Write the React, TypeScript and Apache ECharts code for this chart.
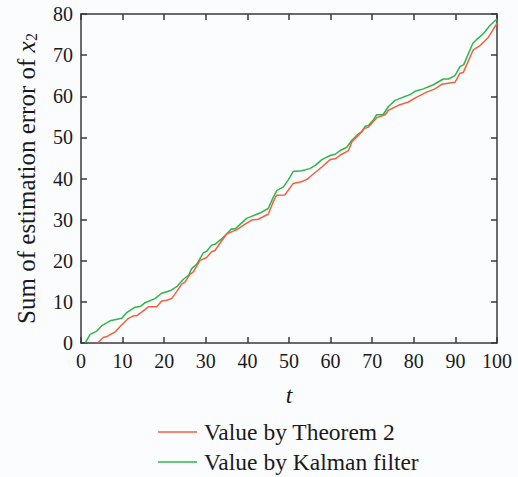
import React, { useEffect, useRef } from "react";
import * as echarts from "echarts";

const xTicks = [0, 10, 20, 30, 40, 50, 60, 70, 80, 90, 100];
const yTicks = [0, 10, 20, 30, 40, 50, 60, 70, 80];

const tTheorem = [4, 5.4, 6.1, 8.2, 9.4, 11.4, 12.6, 13.4, 16.2, 18.2, 19.4, 20.6, 21.8, 23, 24.2, 25, 26.2, 27, 28.6, 30.2, 31.4, 32.2, 35, 36.6, 37.4, 39, 41, 42.6, 45, 46.2, 47, 49, 51, 53, 54.3, 55.5, 57.9, 59.9, 61.1, 62.7, 64.3, 65.1, 67.1, 67.9, 69.1, 71.1, 73.1, 73.9, 76.3, 78.7, 80.7, 83.1, 85.1, 86.7, 89.9, 91.1, 91.9, 94.3, 95.9, 97.9, 100];
const vTheorem = [0, 1.4, 1.5, 2.7, 4.0, 6.0, 6.6, 6.6, 8.8, 8.8, 10.2, 10.4, 10.8, 12.5, 14.3, 14.8, 16.7, 17.3, 20.1, 20.8, 22.2, 22.5, 26.5, 27.2, 27.5, 28.6, 29.9, 30.1, 31.3, 34.3, 35.9, 36.0, 38.8, 39.2, 39.8, 40.8, 42.8, 44.6, 44.8, 45.9, 46.8, 48.9, 50.9, 52.1, 52.5, 54.8, 55.5, 56.6, 57.8, 58.6, 59.8, 61.0, 61.8, 62.9, 63.4, 65.6, 65.8, 71.3, 72.3, 74.3, 77.7];

const tKalman = [1, 2.2, 3.8, 5, 7, 9.8, 11, 13, 14.3, 15.4, 17.8, 19.4, 21.4, 23, 24.6, 25.9, 26.6, 27.8, 29.4, 30.2, 31.4, 32.2, 33.8, 36.2, 37, 39.8, 41, 43, 45, 46.2, 47.1, 48.6, 49.8, 51, 53, 55, 56.3, 57.9, 59.9, 61.1, 62.3, 63.9, 65.1, 66.7, 67.5, 68.3, 69.1, 70.3, 71.1, 72.6, 73.9, 75.5, 77.5, 79.1, 80.3, 82.3, 84.7, 87.1, 88.3, 89.9, 91.1, 92, 94.2, 95, 96.7, 98.3, 100];
const vKalman = [0, 2.1, 2.9, 4.2, 5.4, 6.0, 7.4, 8.7, 8.9, 9.8, 10.8, 12.1, 12.7, 13.7, 15.5, 16.5, 18.1, 19.1, 21.9, 22.3, 23.8, 24.0, 25.3, 27.8, 27.7, 30.3, 30.8, 31.6, 32.7, 35.4, 37.1, 37.9, 39.6, 41.7, 41.9, 42.4, 43.2, 44.6, 45.6, 45.9, 46.8, 47.6, 49.3, 50.9, 51.3, 52.7, 52.9, 54.3, 55.5, 55.5, 57.5, 59.0, 59.8, 60.4, 61.2, 61.8, 62.8, 64.2, 64.2, 65.0, 67.2, 67.7, 72.9, 73.7, 75.2, 77.2, 78.8];

const seriesNames = ["Value by Theorem 2", "Value by Kalman filter"];
const FONT = "Liberation Serif";
const TEXT = "#1a1a1a";
const AXIS = "#3a3a3a";

const axisLine = () => ({ show: true, onZero: false, lineStyle: { color: AXIS, width: 1.5 } });
const axisTick = () => ({ show: true, inside: true, length: 6, lineStyle: { color: AXIS, width: 1.5 } });
const tickLabel = () => ({
  color: TEXT,
  fontSize: 20,
  fontFamily: FONT,
  margin: 8,
  formatter: "{n|{value}}",
  rich: { n: { fontSize: 20, fontFamily: FONT, color: TEXT } },
});

export default function App() {
  const ref = useRef<HTMLDivElement>(null);
  useEffect(() => {
    if (!ref.current) return;
    const chart = echarts.init(ref.current, null, { renderer: "svg" });
    chart.setOption({
      animation: false,
      backgroundColor: "#fbfcfe",
      textStyle: { fontFamily: FONT, color: TEXT },
      grid: { left: 81, right: 21, top: 14, bottom: 134, show: false },
      legend: {
        orient: "vertical",
        left: 153,
        top: 415,
        height: 60,
        itemWidth: 39,
        itemHeight: 1.5,
        itemGap: 6,
        icon: "rect",
        data: seriesNames,
        textStyle: { color: TEXT, fontSize: 23.5, lineHeight: 24, fontFamily: FONT, padding: [0, 0, 0, 2] },
      },
      xAxis: [
        {
          type: "value",
          min: 0,
          max: 100,
          interval: 10,
          axisLine: axisLine(),
          axisTick: axisTick(),
          splitLine: { show: false },
          axisLabel: tickLabel(),
          name: "t",
          nameLocation: "middle",
          nameGap: 40,
          nameTextStyle: { color: TEXT, fontSize: 24, fontFamily: FONT, fontStyle: "italic" },
        },
        {
          type: "value",
          position: "top",
          min: 0,
          max: 100,
          interval: 10,
          axisLine: axisLine(),
          axisTick: axisTick(),
          splitLine: { show: false },
          axisLabel: { show: false },
        },
      ],
      yAxis: [
        {
          type: "value",
          min: 0,
          max: 80,
          interval: 10,
          axisLine: axisLine(),
          axisTick: axisTick(),
          splitLine: { show: false },
          axisLabel: tickLabel(),
          name: "{a|Sum of estimation error of }{i|x}{s|2}",
          nameLocation: "middle",
          nameGap: 42,
          nameTextStyle: {
            color: TEXT,
            fontFamily: FONT,
            rich: {
              a: { fontSize: 25, fontFamily: FONT, color: TEXT },
              i: { fontSize: 25.5, fontFamily: FONT, fontStyle: "italic", color: TEXT },
              s: { fontSize: 16, fontFamily: FONT, color: TEXT, padding: [10, 0, 0, 0] },
            },
          },
        },
        {
          type: "value",
          position: "right",
          min: 0,
          max: 80,
          interval: 10,
          axisLine: axisLine(),
          axisTick: axisTick(),
          splitLine: { show: false },
          axisLabel: { show: false },
        },
      ],
      series: [
        {
          name: seriesNames[0],
          type: "line",
          symbol: "none",
          data: tTheorem.map((t, i) => [t, vTheorem[i]]),
          lineStyle: { color: "#f5603c", width: 1.5 },
          itemStyle: { color: "#f5603c" },
          z: 3,
        },
        {
          name: seriesNames[1],
          type: "line",
          symbol: "none",
          data: tKalman.map((t, i) => [t, vKalman[i]]),
          lineStyle: { color: "#2cb84a", width: 1.5 },
          itemStyle: { color: "#2cb84a" },
          z: 2,
        },
      ],
    });
    return () => chart.dispose();
  }, []);
  return (
    <div
      ref={ref}
      style={{ position: "fixed", left: 0, top: 0, width: 518, height: 477 }}
    />
  );
}
